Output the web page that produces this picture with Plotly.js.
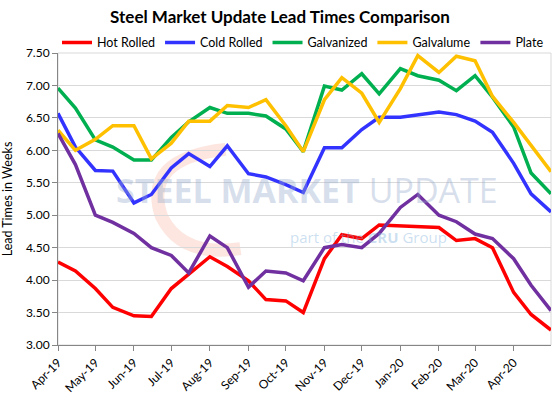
<!DOCTYPE html>
<html>
<head>
<meta charset="utf-8">
<script src="https://cdn.plot.ly/plotly-3.0.1.min.js"></script>
<style>html,body{margin:0;padding:0;background:#fff;}#chart{width:560px;height:398px;}</style>
</head>
<body>
<div id="chart"></div>
<script>
// Survey dates (twice monthly)
const dates = [
  '2019-04-01','2019-04-15','2019-05-01','2019-05-15','2019-06-01','2019-06-15',
  '2019-07-01','2019-07-15','2019-08-01','2019-08-15','2019-09-01','2019-09-15',
  '2019-10-01','2019-10-15','2019-11-01','2019-11-15','2019-12-01','2019-12-15',
  '2020-01-01','2020-01-15','2020-02-01','2020-02-15','2020-03-01','2020-03-15',
  '2020-04-01','2020-04-15','2020-05-01'
];
const hotRolled = [4.28,4.14,3.87,3.58,3.45,3.44,3.87,4.09,4.36,4.21,3.99,3.70,3.68,3.50,4.33,4.70,4.64,4.85,4.84,4.83,4.81,4.61,4.64,4.50,3.81,3.47,3.23];
const coldRolled = [6.57,6.05,5.69,5.68,5.19,5.32,5.73,5.95,5.75,6.07,5.64,5.59,5.47,5.35,6.04,6.04,6.32,6.51,6.51,6.55,6.59,6.55,6.45,6.28,5.80,5.33,5.05];
const galvanized = [6.96,6.65,6.16,6.05,5.85,5.85,6.20,6.44,6.66,6.57,6.57,6.53,6.33,5.98,6.99,6.93,7.18,6.87,7.26,7.15,7.08,6.92,7.15,6.82,6.36,5.65,5.33];
const galvalume  = [6.31,6.00,6.17,6.38,6.38,5.87,6.11,6.45,6.45,6.69,6.66,6.78,6.38,5.98,6.78,7.12,6.88,6.43,6.95,7.46,7.20,7.45,7.38,6.83,6.43,6.08,5.67];
const plate      = [6.26,5.78,5.00,4.89,4.72,4.50,4.38,4.11,4.68,4.50,3.89,4.14,4.11,3.99,4.50,4.55,4.50,4.72,5.12,5.32,5.00,4.90,4.71,4.64,4.33,3.92,3.53];

const seriesNames = ['Hot Rolled','Cold Rolled','Galvanized','Galvalume','Plate'];
const seriesValues = [hotRolled, coldRolled, galvanized, galvalume, plate];
const seriesColors = ['#FF0000','#3333FF','#00B050','#FFC000','#7030A0'];

const tickDates = ['2019-04-01','2019-05-01','2019-06-01','2019-07-01','2019-08-01','2019-09-01',
  '2019-10-01','2019-11-01','2019-12-01','2020-01-01','2020-02-01','2020-03-01','2020-04-01'];
const tickLabels = ['Apr-19','May-19','Jun-19','Jul-19','Aug-19','Sep-19','Oct-19','Nov-19','Dec-19','Jan-20','Feb-20','Mar-20','Apr-20'];

const FONT = 'Lato, "Liberation Sans", sans-serif';

const traces = seriesNames.map((n, i) => ({
  type: 'scatter', mode: 'lines', name: n,
  x: dates, y: seriesValues[i],
  line: {color: seriesColors[i], width: 3.5}
}));

const layout = {
  width: 560, height: 398,
  margin: {l: 58, r: 9, t: 53, b: 53},
  paper_bgcolor: '#fff', plot_bgcolor: '#fff',
  font: {family: FONT, size: 12, color: '#000'},
  title: {text: '<b>Steel Market Update Lead Times Comparison</b>', font: {family: FONT, size: 17, color: '#000'},
          x: 0.5, xanchor: 'center', y: 0.958, yanchor: 'middle'},
  showlegend: true,
  legend: {orientation: 'h', x: -0.002, xanchor: 'left', y: 1.035, yanchor: 'middle',
           font: {family: FONT, size: 12.5, color: '#000'}, itemwidth: 30, tracegroupgap: 0,
           bgcolor: 'rgba(0,0,0,0)'},
  xaxis: {
    type: 'date', range: ['2019-04-01','2020-05-01'],
    tickvals: tickDates, ticktext: tickLabels, tickangle: -45,
    showgrid: false, zeroline: false,
    showline: true, linecolor: '#868686', linewidth: 1,
    ticks: 'outside', ticklen: 5, tickcolor: '#868686',
    tickfont: {family: FONT, size: 12, color: '#000'}
  },
  yaxis: {
    range: [3, 7.5], dtick: 0.5, tick0: 3, tickformat: '.2f',
    showgrid: true, gridcolor: '#D9D9D9', gridwidth: 1, zeroline: false,
    showline: true, linecolor: '#868686', linewidth: 1,
    ticks: 'outside', ticklen: 5, tickcolor: '#868686',
    tickfont: {family: FONT, size: 12, color: '#000'},
    title: {text: 'Lead Times in Weeks', font: {family: FONT, size: 12.5, color: '#000'}, standoff: 10}
  },
  shapes: [
    {type: 'rect', xref: 'paper', yref: 'paper', x0: 0, x1: 1, y0: 0, y1: 1,
     line: {color: '#D9D9D9', width: 1}, layer: 'below'},
    {type: 'path', xref: 'paper', yref: 'paper', layer: 'below',
     path: 'M 0.34,0.67 Q 0.17,0.64 0.21,0.44 Q 0.25,0.3 0.37,0.33',
     line: {color: 'rgba(240,140,110,0.22)', width: 13}}
  ],
  annotations: [
    {xref: 'paper', yref: 'paper', x: 0.505, y: 0.53, xanchor: 'center', yanchor: 'middle', showarrow: false,
     text: '<b>STEEL MARKET</b> UPDATE', font: {family: 'Open Sans, sans-serif', size: 34, color: 'rgba(150,170,205,0.38)'}},
    {xref: 'paper', yref: 'paper', x: 0.63, y: 0.37, xanchor: 'center', yanchor: 'middle', showarrow: false,
     text: 'part of the <b>CRU</b> Group', font: {family: 'Open Sans, sans-serif', size: 15, color: 'rgba(120,170,215,0.38)'}}
  ]
};

Plotly.newPlot('chart', traces, layout, {displayModeBar: false, staticPlot: true});
</script>
</body>
</html>
